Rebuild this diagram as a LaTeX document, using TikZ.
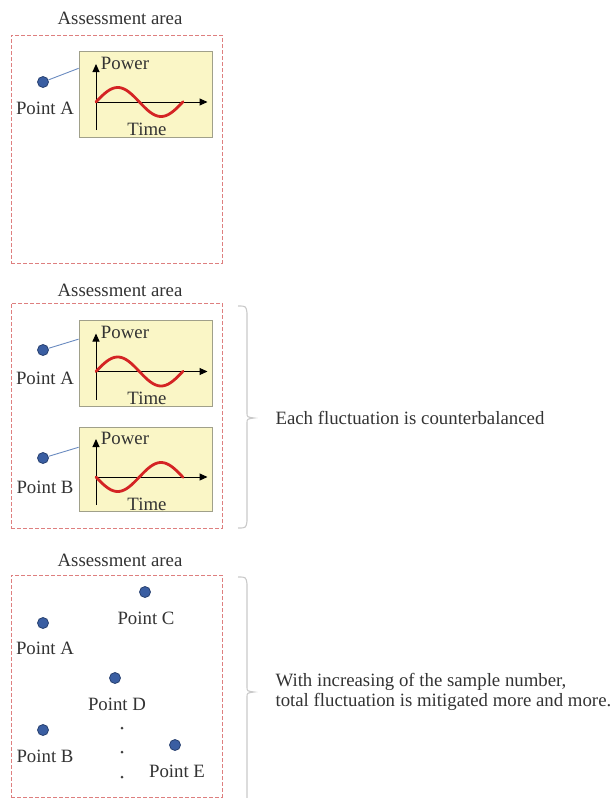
\documentclass[tikz,border=0pt]{standalone}
\usepackage{fontspec}
\setmainfont{Liberation Serif}
\usetikzlibrary{arrows.meta,positioning,calc}
\definecolor{areared}{HTML}{DE7F7F}
\definecolor{chartfill}{HTML}{FAF6C6}
\definecolor{chartedge}{HTML}{A0A08A}
\definecolor{spotblue}{HTML}{3A5EA2}
\definecolor{linkblue}{HTML}{6A8BC0}
\definecolor{wavered}{HTML}{D42424}
\definecolor{ink}{HTML}{333333}
\definecolor{bracegray}{HTML}{C9C9C9}

\begin{document}
\begin{tikzpicture}[x=1pt, y=-1pt, font=\fontsize{18.8}{20}\selectfont, text=ink]

\tikzset{
  area/.style={draw=areared, dash pattern=on 4pt off 2pt, line width=0.9pt,
               minimum width=211pt, inner sep=0pt},
  chart/.style={draw=chartedge, fill=chartfill, line width=0.8pt,
                minimum width=133pt, minimum height=86pt, inner sep=0pt},
  spot/.style={circle, fill=spotblue, draw=spotblue!70!black, line width=0.8pt,
               minimum size=11pt, inner sep=0pt},
  dotmark/.style={circle, fill=black!75, minimum size=3pt, inner sep=0pt},
  link/.style={draw=linkblue, line width=0.9pt},
  axis/.style={-{Triangle[length=8pt,width=7pt]}, line width=1pt, draw=black},
  wave/.style={draw=wavered, line width=2.8pt, line cap=round},
  bkt/.style={draw=bracegray, line width=1.1pt},
  note/.style={anchor=west, align=left}}

\useasboundingbox (0,0) rectangle (613,798);

% panel 1: a single point
\node (t1) at (120,18) {Assessment area};
\node[area, minimum height=228pt] (ar1) at (116.5,149) {};
\node[chart] (ch1) at (145.5,94) {};
\node[spot] (a1) at (43,82) {};
\node (a1l) at (45,108) {Point A};
\draw[link] (a1) -- (ch1.159);

% panel 2: two points, opposite fluctuations
\node (t2) at (120,290) {Assessment area};
\node[area, minimum height=225pt] (ar2) at (116.5,415.5) {};
\node[chart] (ch2) at (145.5,363.5) {};
\node[chart, minimum height=84pt] (ch3) at (145.5,469) {};
\node[spot] (a2) at (43,350) {};
\node (a2l) at (45,378) {Point A};
\node[spot] (b2) at (43,458) {};
\node (b2l) at (45,487) {Point B};
\draw[link] (a2) -- (ch2.160);
\draw[link] (b2) -- (ch3.162);

% axes, labels and wave inside each chart
\foreach \c/\s in {ch1/1, ch2/1, ch3/-1}{
  \begin{scope}[shift={(\c.center)}]
    \draw[axis] (-49.5,36) -- (-49.5,-30);
    \draw[axis] (-49.5,8) -- (62,8);
    \draw[wave] plot[domain=0:87, samples=60] ({-49.5+\x},{8-\s*14.5*sin(4.15*\x)});
    \node (\c-pw) at (-20.5,-31) {Power};
    \node (\c-tm) at (1.5,35) {Time};
  \end{scope}
}

% panel 3: many points
\node (t3) at (120,560) {Assessment area};
\node[area, minimum height=222pt] (ar3) at (116.5,686) {};
\node[spot] (a3) at (43,623) {};
\node (a3l) at (45,648) {Point A};
\node[spot] (c3) at (145,592) {};
\node (c3l) at (146,618) {Point C};
\node[spot] (d3) at (115,678) {};
\node (d3l) at (117,704) {Point D};
\node[spot] (b3) at (43,730) {};
\node (b3l) at (45,756) {Point B};
\node[spot] (e3) at (175,745) {};
\node (e3l) at (177,771) {Point E};
\foreach \y/\k in {728/1, 752/2, 777/3}
  \node[dotmark] (el\k) at (122,\y) {};

% braces and remarks
\draw[bkt] (238,306) .. controls (246,306) .. (247,313) -- (247,413)
  .. controls (247,417) .. (254,418) .. controls (247,419) .. (247,423)
  -- (247,521) .. controls (246,528) .. (238,528);
\node[note] (n1) at (272,418) {Each fluctuation is counterbalanced};

\draw[bkt] (238,577) .. controls (246,577) .. (247,584) -- (247,687)
  .. controls (247,691) .. (254,692) .. controls (247,693) .. (247,697)
  -- (247,798);
\node[note] (n2) at (272,692) {With increasing of the sample number,\\total fluctuation is mitigated more and more.};

\end{tikzpicture}
\end{document}
